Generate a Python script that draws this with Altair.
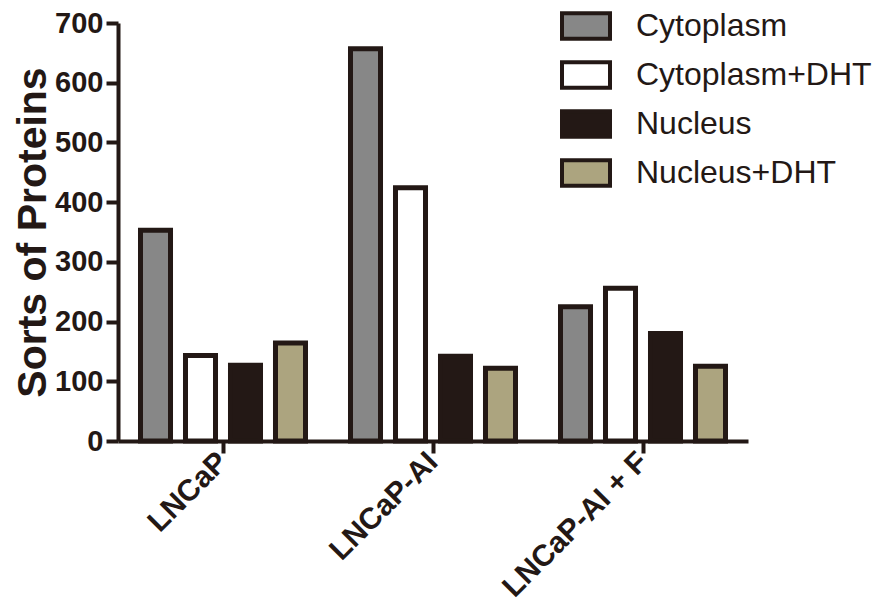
import altair as alt
import pandas as pd

groups = ["LNCaP", "LNCaP-AI", "LNCaP-AI + F"]
series = ["Cytoplasm", "Cytoplasm+DHT", "Nucleus", "Nucleus+DHT"]
cytoplasm = [353, 657, 225]
cytoplasm_dht = [143, 424, 256]
nucleus = [127, 142, 180]
nucleus_dht = [164, 122, 125]
colors = ["#878787", "#ffffff", "#231815", "#aca47f"]

rows = []
for name, vals in zip(series, [cytoplasm, cytoplasm_dht, nucleus, nucleus_dht]):
    for g, v in zip(groups, vals):
        rows.append({"group": g, "series": name, "value": v})
df = pd.DataFrame(rows)

dark = "#231815"
font = "Liberation Sans"

chart = alt.Chart(df).mark_bar(stroke=dark, strokeWidth=5).encode(
    x=alt.X("group:N", sort=groups, title=None,
            scale=alt.Scale(paddingInner=0, paddingOuter=0),
            axis=alt.Axis(labelAngle=-45, labelAlign="right", labelBaseline="middle",
                          labelFont=font, labelFontSize=30, labelFontWeight="bold",
                          labelColor=dark, labelPadding=4, labelLimit=400,
                          tickSize=12, tickWidth=4,
                          tickColor=dark, domainColor=dark, domainWidth=4)),
    xOffset=alt.XOffset("series:N", sort=series,
                        scale=alt.Scale(paddingInner=0.333, paddingOuter=0.5)),
    y=alt.Y("value:Q", scale=alt.Scale(domain=[0, 700], nice=False),
            axis=alt.Axis(values=list(range(0, 701, 100)), title="Sorts of Proteins",
                          titleFont=font, titleFontSize=41, titleFontWeight="bold",
                          titleColor=dark, titlePadding=0,
                          labelFont=font, labelFontSize=29, labelFontWeight="bold",
                          labelColor=dark, labelPadding=3, tickSize=12, tickWidth=4,
                          tickColor=dark, domainColor=dark, domainWidth=4, grid=False)),
    color=alt.Color("series:N", sort=series,
                    scale=alt.Scale(domain=series, range=colors),
                    legend=alt.Legend(title=None, orient="none", legendX=451, legendY=-14,
                                      symbolType="M-1.6,-0.85H1.6V0.85H-1.6Z",
                                      symbolSize=900, symbolStrokeColor=dark,
                                      symbolStrokeWidth=4, symbolOpacity=1,
                                      labelFont=font, labelFontSize=32, labelColor=dark,
                                      labelOffset=33, rowPadding=7, padding=0,
                                      labelLimit=400)),
).properties(
    width=630, height=418,
    autosize=alt.AutoSizeParams(type="none"),
    padding={"left": 110, "top": 15, "right": 130, "bottom": 169},
).configure_view(stroke=None)

chart.save("out.html", embed_options={"renderer": "svg", "actions": False})
